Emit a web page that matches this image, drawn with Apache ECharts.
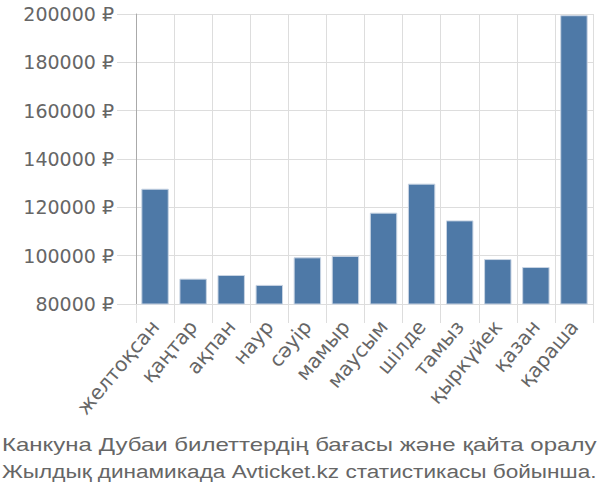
<!DOCTYPE html>
<html><head><meta charset="utf-8">
<script src="https://cdn.jsdelivr.net/npm/echarts@6/dist/echarts.min.js"></script>
<style>
html,body{margin:0;padding:0;background:#fff;overflow:hidden}
#c{width:600px;height:500px}
</style>
</head><body><div id="c"></div>
<script>
var categories = ['желтоқсан','қаңтар','ақпан','наур','сәуір','мамыр','маусым','шілде','тамыз','қыркүйек','қазан','қараша'];
var prices = [127700, 90500, 92000, 87900, 99300, 99900, 117800, 129800, 114600, 98600, 95300, 199500];
var yTicks = {min: 80000, max: 200000, interval: 20000};
var titleLines = ['Канкуна Дубаи билеттердің бағасы және қайта оралу', 'Жылдық динамикада Avticket.kz статистикасы бойынша.'];

var FONT = '"Liberation Sans", Arial, sans-serif';
var WIDE = '"DejaVu Sans", sans-serif';
var ctx = document.createElement('canvas').getContext('2d');
ctx.font = '19px ' + FONT;
function fitScale(t, target){ return target / ctx.measureText(t).width; }

var titleY = [444, 471.5];
var graphics = titleLines.map(function(t, i){
  return {
    type: 'text', x: 2, y: titleY[i], scaleX: fitScale(t, 595), silent: true,
    style: {text: t, font: '19px ' + FONT, fill: '#666', textVerticalAlign: 'middle', textAlign: 'left'}
  };
});

var chart = echarts.init(document.getElementById('c'), null, {renderer: 'svg'});
chart.setOption({
  animation: false,
  textStyle: {fontFamily: FONT},
  graphic: graphics,
  grid: {left: 136, right: 7, top: 14, bottom: 196},
  xAxis: {
    type: 'category', data: categories,
    axisLine: {show: true, lineStyle: {color: '#ddd'}},
    axisTick: {show: true, length: 19, lineStyle: {color: '#ddd'}},
    splitLine: {show: true, lineStyle: {color: '#ddd'}},
    axisLabel: {rotate: 50, fontSize: 20, fontFamily: WIDE, color: '#666', margin: 19, interval: 0}
  },
  yAxis: {
    type: 'value', min: yTicks.min, max: yTicks.max, interval: yTicks.interval,
    axisLine: {show: true, lineStyle: {color: '#aaa'}},
    axisTick: {show: true, length: 19, lineStyle: {color: '#ddd'}},
    splitLine: {show: true, lineStyle: {color: '#ddd'}},
    axisLabel: {fontSize: 19, fontFamily: WIDE, color: '#666', margin: 22, formatter: function(v){return v + ' ₽';}}
  },
  series: [{
    type: 'bar', data: prices, barCategoryGap: '28%',
    itemStyle: {color: '#4e79a7', borderColor: '#c8d4e3', borderWidth: 1}
  }]
});
</script></body></html>
